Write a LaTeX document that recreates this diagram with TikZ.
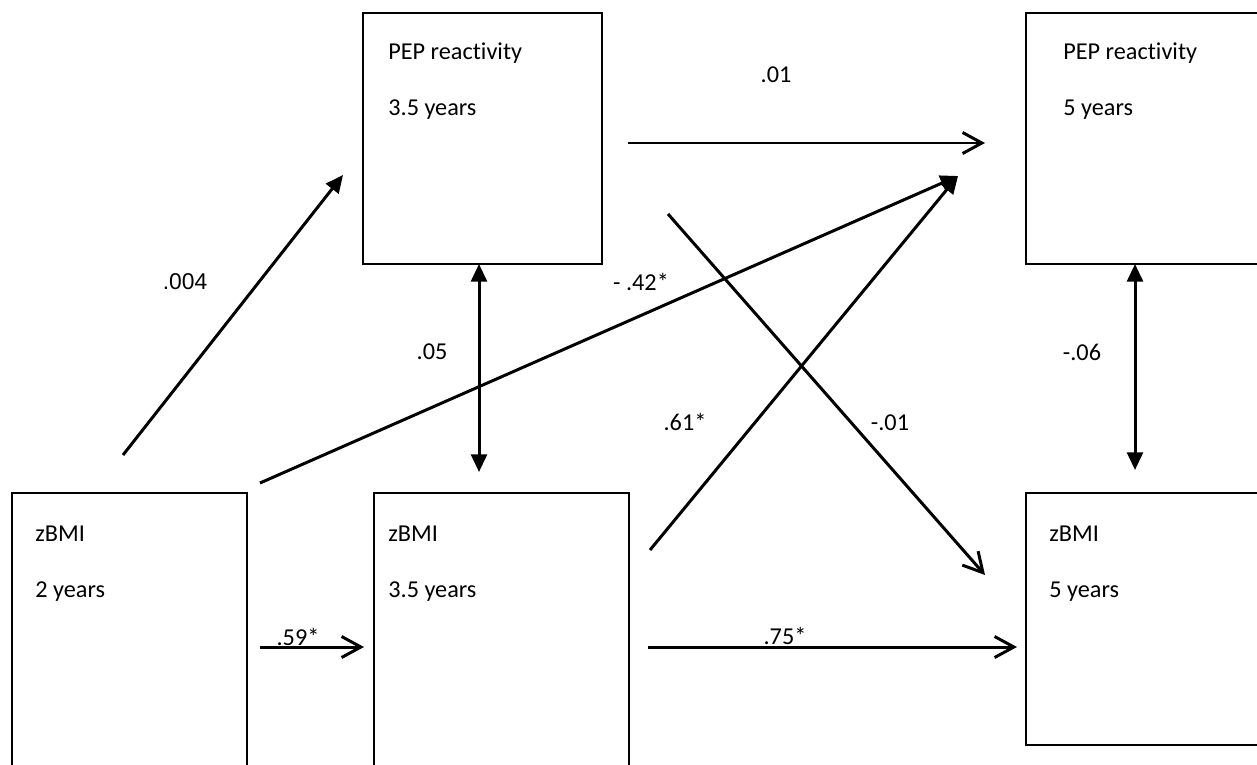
\documentclass[tikz,border=0pt]{standalone}
\usepackage{fontspec}
\setmainfont{Carlito}[Ligatures=NoCommon]
\newfontfamily\arialfont{Liberation Sans}
\usetikzlibrary{arrows.meta,positioning}

\begin{document}
\begin{tikzpicture}[
      x=0.02cm, y=-0.02cm,
      font=\fontsize{13.8}{16}\selectfont,
      varbox/.style={draw, line width=1.1pt, anchor=north west,
                     inner sep=0pt, outer sep=0pt, minimum width=#1},
      boxtext/.style={anchor=base west, inner sep=0pt},
      coef/.style={inner sep=1pt},
      openarrow/.style={-{Straight Barb[length=11pt, width=12pt]}, line width=1.7pt},
      fullarrow/.style={-{Triangle[length=10pt, width=9pt]}, line width=1.7pt},
      bothway/.style={{Triangle[length=10pt, width=9pt]}-{Triangle[length=10pt, width=9pt]}, line width=1.7pt}
    ]
    \useasboundingbox (0,0) rectangle (1257,764);
    \clip (0,0) rectangle (1257,764);
    % boxes
    \node[varbox=4.78cm, minimum height=5.02cm] (pepA) at (363,13) {};
    \node[varbox=5.2cm, minimum height=5.02cm] (pepB) at (1026,13) {};
    \node[varbox=4.7cm, minimum height=6cm] (bmiA) at (12,493) {};
    \node[varbox=5.1cm, minimum height=6cm] (bmiB) at (374,493) {};
    \node[varbox=5.2cm, minimum height=5.04cm] (bmiC) at (1026,493) {};
    % box texts
    \node[boxtext] (pepAname) at (388,59) {PEP reactivity};
    \node[boxtext] (pepAage) at (388,115) {3.5 years};
    \node[boxtext] (pepBname) at (1063,59) {PEP reactivity};
    \node[boxtext] (pepBage) at (1063,115) {5 years};
    \node[boxtext] (bmiAname) at (35,541) {zBMI};
    \node[boxtext] (bmiAage) at (35,597) {2 years};
    \node[boxtext] (bmiBname) at (388,541) {zBMI};
    \node[boxtext] (bmiBage) at (388,597) {3.5 years};
    \node[boxtext] (bmiCname) at (1049,541) {zBMI};
    \node[boxtext] (bmiCage) at (1049,597) {5 years};
    % arrow ends
    \coordinate (aStart) at (123,455);
    \coordinate (aEnd) at (343,175);
    \coordinate (bStart) at (260,483);
    \coordinate (cross) at (958,176);
    \coordinate (cStart) at (650,550);
    \coordinate (dStart) at (668,214);
    \coordinate (dEnd) at (985,575);
    \coordinate (eStart) at (628,143);
    \coordinate (eEnd) at (985,143);
    \coordinate (fStart) at (260,647);
    \coordinate (fEnd) at (364,647);
    \coordinate (gStart) at (648,647);
    \coordinate (gEnd) at (1017,647);
    \coordinate (hEnd) at (479,472);
    \coordinate (kEnd) at (1135,470);
    \coordinate (hStart) at (pepA.south -| hEnd);
    \coordinate (kStart) at (pepB.south -| kEnd);
    % connectors
    \draw[fullarrow] (aStart) -- (aEnd);
    \draw[fullarrow] (bStart) -- (cross);
    \draw[fullarrow] (cStart) -- (cross);
    \draw[openarrow] (dStart) -- (dEnd);
    \draw[openarrow] (eStart) -- (eEnd);
    \draw[openarrow] (fStart) -- (fEnd);
    \draw[openarrow] (gStart) -- (gEnd);
    \draw[bothway] (hStart) -- (hEnd);
    \draw[bothway] (kStart) -- (kEnd);
    % coefficients
    \node[coef, font=\arialfont\fontsize{13}{15}\selectfont] (pathA) at (185,282) {.004};
    \node[coef] (pathB) at (641,282) {- .42*};
    \node[coef] (pathC) at (685,422) {.61*};
    \node[coef] (pathD) at (890,423) {-.01};
    \node[coef] (pathE) at (776,75) {.01};
    \node[coef] (pathF) at (298,637) {.59*};
    \node[coef] (pathG) at (785,636) {.75*};
    \node[coef] (pathH) at (432,352) {.05};
    \node[coef] (pathK) at (1082,352) {-.06};
  \end{tikzpicture}
\end{document}
